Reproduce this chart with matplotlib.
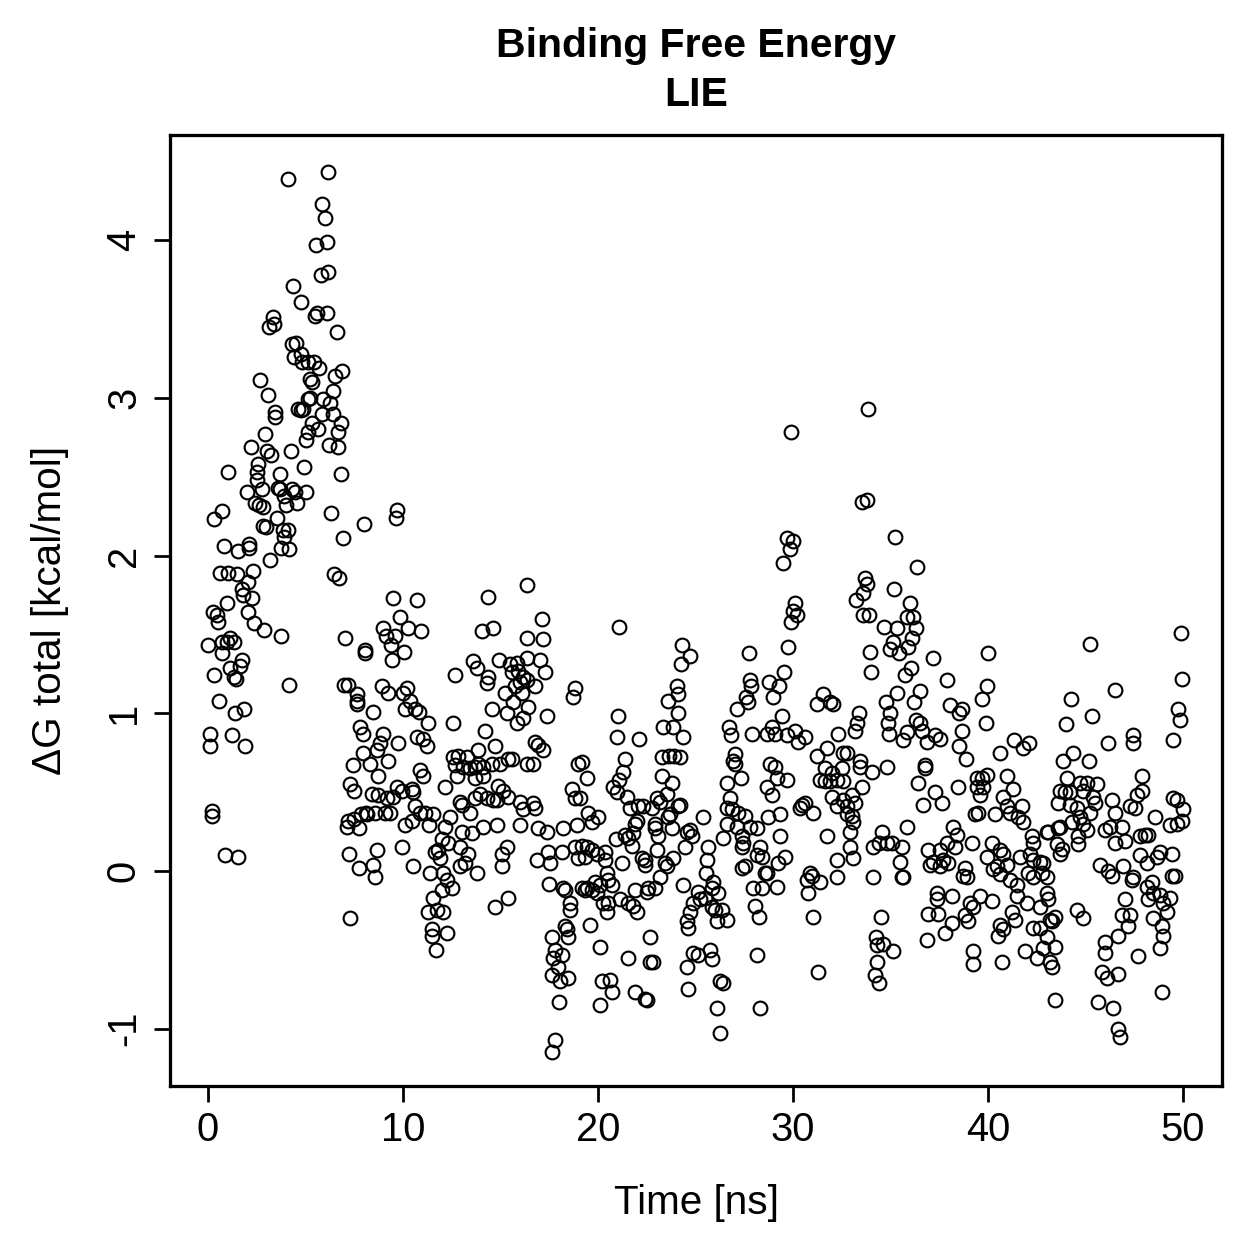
import matplotlib
matplotlib.use("Agg")
import matplotlib.pyplot as plt

plt.rcParams['font.family'] = ['Liberation Sans', 'DejaVu Sans']
plt.rcParams['axes.unicode_minus'] = False

# Time [ns] / dG total [kcal/mol], in time windows
t_rise = [
    6.15, 4.1, 5.85, 6.0, 5.55, 6.1, 5.8, 6.15, 4.36, 4.77,
    5.49, 5.59, 6.1, 3.33, 3.13, 3.38, 6.6, 4.3, 4.5, 4.4,
    4.77, 4.82, 5.13, 5.44, 5.69, 6.87, 6.5, 5.23, 5.33, 2.67,
    3.08, 6.41, 6.26, 5.9, 5.23, 5.13, 4.62, 4.77, 4.87, 3.44,
    3.44, 5.85, 6.41, 5.33, 5.64, 5.13, 5.03, 6.82, 6.67, 6.67,
    6.2, 2.92, 2.2, 3.03, 3.23, 4.26, 4.92, 3.69, 6.82, 1.03,
    2.56, 2.51, 2.51, 2.0, 2.77, 3.59, 3.69, 3.9, 4.31, 4.46,
    5.03, 4.56, 2.41, 2.62, 2.82, 4.0, 0.31, 0.72, 6.31, 3.54,
    8.0, 6.92, 2.82, 2.97, 3.85, 4.1, 3.9, 0.82, 1.54, 2.1,
    2.1, 3.74, 4.15, 3.18, 6.46, 6.72, 0.62, 1.03, 1.49, 2.31,
    2.05, 1.74, 1.79, 2.26, 0.97, 2.05,
    0.26, 0.46, 0.51, 2.36, 2.87, 3.74, 7.03, 8.05, 8.05, 0.0,
    0.72, 0.72, 1.13, 1.33, 0.97, 1.74, 1.64, 1.13, 1.33, 1.44,
    0.31, 4.15, 6.97, 7.18, 7.64, 7.64, 7.64, 0.56, 1.38, 1.85,
    0.1, 0.1, 1.23, 1.9, 7.8, 7.95, 7.95, 7.44, 7.28, 7.49,
    0.2, 0.2, 7.13, 7.18, 7.49, 7.85, 8.1, 7.74, 0.87, 1.54,
    7.23, 7.74, 7.28,
]
dg_rise = [
    4.43, 4.39, 4.23, 4.14, 3.97, 3.99, 3.78, 3.80, 3.71, 3.61,
    3.52, 3.54, 3.54, 3.51, 3.45, 3.47, 3.42, 3.34, 3.35, 3.26,
    3.28, 3.23, 3.23, 3.23, 3.19, 3.17, 3.14, 3.12, 3.10, 3.11,
    3.02, 3.04, 2.97, 2.99, 3.0, 2.99, 2.93, 2.92, 2.93, 2.91,
    2.88, 2.90, 2.90, 2.84, 2.80, 2.78, 2.73, 2.84, 2.78, 2.69,
    2.70, 2.77, 2.69, 2.66, 2.64, 2.66, 2.56, 2.52, 2.52, 2.53,
    2.58, 2.53, 2.48, 2.40, 2.42, 2.43, 2.42, 2.38, 2.42, 2.40,
    2.40, 2.33, 2.33, 2.32, 2.31, 2.32, 2.23, 2.28, 2.27, 2.24,
    2.20, 2.11, 2.19, 2.18, 2.16, 2.16, 2.12, 2.06, 2.03, 2.07,
    2.05, 2.05, 2.04, 1.97, 1.88, 1.86, 1.89, 1.89, 1.88, 1.90,
    1.83, 1.79, 1.75, 1.73, 1.70, 1.64,
    1.64, 1.62, 1.58, 1.57, 1.53, 1.49, 1.48, 1.40, 1.38, 1.43,
    1.45, 1.38, 1.48, 1.45, 1.45, 1.34, 1.30, 1.29, 1.23, 1.22,
    1.24, 1.18, 1.18, 1.18, 1.12, 1.08, 1.06, 1.08, 1.0, 1.03,
    0.87, 0.79, 0.86, 0.79, 0.91, 0.87, 0.75, 0.67, 0.55, 0.51,
    0.38, 0.35, 0.28, 0.32, 0.33, 0.36, 0.37, 0.27, 0.10, 0.09,
    0.11, 0.02, -0.30,
]

t_drop = [
    9.69, 9.64, 16.36, 9.49, 10.72, 14.36, 9.85, 8.97, 9.13, 9.59,
    10.26, 10.92, 9.38, 10.05, 9.44, 14.05, 14.62, 16.36, 12.67, 13.59,
    13.79, 14.92, 14.36, 14.31, 15.49, 15.85, 15.59, 15.9, 16.15, 16.0,
    15.74, 16.36, 15.23, 15.64, 14.56, 15.33, 15.85, 16.15, 16.41, 14.2,
    12.56, 8.46, 8.92, 9.23, 10.0, 10.2, 10.36, 10.1, 10.62, 10.82,
    11.28, 8.97, 8.82, 8.67, 9.74, 10.72, 11.03, 11.23, 8.31, 8.72,
    9.23, 10.87, 11.03, 8.41, 8.72, 9.18, 9.69, 9.95, 10.46, 10.51,
    9.49, 8.56, 8.15, 9.08, 9.33, 10.62, 10.87, 11.13, 11.54, 10.1,
    10.46, 11.33, 12.15, 12.56, 12.82, 13.28, 12.67, 13.08, 13.44, 13.69,
    13.85, 14.1, 14.56, 14.72, 14.97, 15.38, 15.59, 13.85, 12.77, 13.69,
    14.1, 14.87, 15.13, 15.38, 13.95, 13.69, 14.31, 14.62, 14.82, 12.92,
    13.03, 13.44, 16.0, 16.15, 16.36, 12.15, 12.41, 13.54, 13.03, 14.1,
    14.82, 16.0, 12.0, 12.31, 12.92, 13.33, 11.64, 11.79, 11.9, 11.38,
    12.05, 12.26, 12.51, 12.0, 11.54, 11.28, 11.74, 12.05, 11.49, 11.49,
    12.26, 11.69, 12.92, 13.18, 13.79, 15.08, 15.33, 15.08, 15.38, 14.72,
    10.51, 9.95, 8.67, 8.46, 8.56,
]
dg_drop = [
    2.29, 2.24, 1.81, 1.73, 1.72, 1.74, 1.61, 1.54, 1.49, 1.49,
    1.54, 1.52, 1.43, 1.39, 1.34, 1.52, 1.54, 1.48, 1.24, 1.33,
    1.29, 1.34, 1.23, 1.19, 1.31, 1.32, 1.26, 1.27, 1.23, 1.20,
    1.17, 1.21, 1.13, 1.07, 1.03, 1.0, 0.94, 0.97, 1.04, 0.89,
    0.94, 1.01, 1.17, 1.13, 1.13, 1.16, 1.08, 1.03, 1.03, 1.01,
    0.94, 0.87, 0.81, 0.77, 0.81, 0.85, 0.84, 0.79, 0.68, 0.60,
    0.70, 0.64, 0.60, 0.49, 0.48, 0.46, 0.53, 0.51, 0.52, 0.50,
    0.47, 0.37, 0.36, 0.37, 0.37, 0.41, 0.37, 0.37, 0.36, 0.29,
    0.32, 0.29, 0.53, 0.72, 0.73, 0.72, 0.67, 0.66, 0.65, 0.66,
    0.68, 0.66, 0.68, 0.79, 0.68, 0.71, 0.71, 0.77, 0.60, 0.59,
    0.60, 0.54, 0.51, 0.47, 0.49, 0.46, 0.46, 0.45, 0.45, 0.44,
    0.42, 0.37, 0.44, 0.39, 0.68, 0.28, 0.34, 0.24, 0.25, 0.28,
    0.29, 0.29, 0.20, 0.18, 0.15, 0.11, 0.12, 0.13, 0.08, -0.01,
    -0.01, -0.06, -0.11, -0.12, -0.17, -0.26, -0.25, -0.26, -0.37, -0.41,
    -0.39, -0.50, 0.03, 0.05, -0.01, 0.11, 0.15, 0.03, -0.17, -0.23,
    0.03, 0.15, 0.13, 0.04, -0.04,
]

t_mid = [
    17.13, 17.18, 21.08, 24.31, 24.26, 24.72, 16.36, 17.03, 17.28, 16.77,
    16.1, 17.38, 16.77, 16.92, 17.18, 16.67, 18.82, 18.72, 24.05, 23.59,
    24.1, 24.1, 23.33, 23.85, 24.36, 21.03, 20.97, 22.1, 21.38, 21.28,
    21.08, 20.77, 20.97, 21.49, 21.64, 22.05, 22.31, 22.77, 22.0, 21.9,
    21.38, 21.54, 20.92, 21.79, 21.74, 23.28, 23.64, 23.9, 23.28, 23.79,
    23.54, 23.03, 23.18, 24.1, 24.21, 23.69, 23.59, 22.92, 22.92, 23.08,
    23.79, 24.56, 24.46, 23.03, 23.85, 23.44, 23.54, 23.18, 24.36, 18.97,
    19.18, 19.44, 18.67, 18.82, 19.08, 19.49, 20.0, 19.69, 18.92, 18.21,
    16.67, 16.77, 16.92, 17.38, 18.82, 19.18, 19.44, 19.69, 18.97, 19.33,
    20.36, 20.36, 19.95, 18.15, 17.44, 16.87, 17.54, 21.23, 22.41, 22.41,
    22.26, 20.46, 20.51, 19.85, 19.44, 19.69, 19.95, 20.1, 20.72, 20.26,
    20.51, 20.46, 21.13, 21.54, 21.79, 22.0, 21.9, 22.56, 22.92, 22.51,
    17.49, 18.21, 18.31, 18.56, 18.56, 19.18, 19.33, 18.31, 18.41, 18.46,
    17.64, 17.79, 18.15, 17.69, 17.95, 17.64, 18.05, 18.46, 18.0, 19.59,
    20.1, 20.21, 20.62, 20.72, 20.1, 21.54, 21.9, 22.41, 22.51, 22.67,
    22.67, 22.82, 17.79, 17.64,
]
dg_mid = [
    1.60, 1.47, 1.55, 1.43, 1.31, 1.36, 1.35, 1.34, 1.26, 1.17,
    1.13, 0.98, 0.82, 0.80, 0.77, 0.68, 1.16, 1.10, 1.17, 1.08,
    1.12, 1.0, 0.91, 0.91, 0.85, 0.98, 0.85, 0.84, 0.71, 0.63,
    0.58, 0.53, 0.50, 0.47, 0.40, 0.41, 0.41, 0.40, 0.32, 0.30,
    0.23, 0.21, 0.20, 0.24, 0.16, 0.72, 0.73, 0.73, 0.60, 0.56,
    0.49, 0.46, 0.44, 0.41, 0.42, 0.36, 0.34, 0.30, 0.27, 0.22,
    0.27, 0.25, 0.15, 0.13, 0.08, 0.05, 0.03, -0.04, -0.09, 0.68,
    0.69, 0.59, 0.52, 0.46, 0.46, 0.37, 0.34, 0.31, 0.29, 0.27,
    0.43, 0.40, 0.27, 0.25, 0.15, 0.16, 0.15, 0.13, 0.08, 0.09,
    0.12, 0.07, 0.11, 0.12, 0.12, 0.07, 0.05, 0.05, 0.04, 0.07,
    0.08, -0.01, -0.06, -0.07, -0.11, -0.12, -0.14, -0.09, -0.09, -0.20,
    -0.20, -0.26, -0.18, -0.20, -0.22, -0.26, -0.12, -0.11, -0.11, -0.13,
    -0.08, -0.11, -0.12, -0.20, -0.25, -0.11, -0.12, -0.35, -0.37, -0.42,
    -0.42, -0.50, -0.53, -0.55, -0.61, -0.66, -0.70, -0.68, -0.83, -0.34,
    -0.48, -0.70, -0.69, -0.77, -0.85, -0.55, -0.77, -0.81, -0.82, -0.42,
    -0.58, -0.58, -1.07, -1.15,
]

t_peak = [
    29.49, 30.1, 30.0, 30.21, 29.9, 29.74, 27.74, 29.54, 29.28, 28.77,
    28.97, 27.79, 27.85, 27.59, 27.69, 27.13, 31.54, 31.23, 31.9, 32.05,
    24.21, 26.72, 26.82, 27.9, 28.67, 28.92, 29.08, 29.44, 29.69, 30.1,
    30.26, 30.62, 32.31, 31.74, 31.23, 32.56, 32.77, 32.51, 31.64, 32.0,
    31.38, 31.64, 31.9, 32.26, 32.56, 32.0, 32.26, 32.56, 32.77, 32.77,
    31.03, 30.62, 30.36, 30.46, 27.03, 26.92, 27.03, 27.33, 26.62, 26.77,
    26.62, 26.87, 27.18, 27.54, 26.62, 27.13, 27.79, 28.15, 26.41, 27.38,
    27.38, 27.44, 28.31, 28.15, 28.41, 28.72, 28.82, 29.08, 29.18, 29.69,
    28.67, 28.92, 29.33, 29.33, 29.59, 29.23, 28.56, 28.67, 27.38, 27.54,
    27.95, 28.41, 29.18, 28.05, 28.26, 28.15, 28.31, 25.38, 24.72, 24.82,
    25.64, 25.59, 25.54, 25.9, 25.13, 25.85, 26.15, 24.87, 25.23, 25.49,
    24.72, 24.56, 24.62, 26.0, 26.36, 26.1, 26.62, 25.85, 24.87, 25.13,
    25.74, 25.85, 24.56, 24.62, 26.26, 26.41, 26.1, 26.26, 31.28, 31.03,
    30.72, 30.87, 30.97, 30.77, 31.38, 32.26, 31.74, 32.26, 29.9, 29.69,
    30.0, 29.85,
]
dg_peak = [
    1.95, 1.70, 1.65, 1.62, 1.58, 1.42, 1.38, 1.26, 1.17, 1.20,
    1.10, 1.21, 1.17, 1.10, 1.07, 1.03, 1.12, 1.06, 1.07, 1.06,
    0.72, 0.91, 0.86, 0.87, 0.87, 0.91, 0.87, 0.98, 0.86, 0.89,
    0.82, 0.85, 0.87, 0.78, 0.73, 0.75, 0.75, 0.65, 0.65, 0.62,
    0.58, 0.57, 0.57, 0.58, 0.57, 0.47, 0.41, 0.45, 0.41, 0.36,
    0.37, 0.43, 0.40, 0.42, 0.74, 0.70, 0.68, 0.59, 0.56, 0.46,
    0.40, 0.39, 0.37, 0.35, 0.30, 0.28, 0.28, 0.27, 0.21, 0.22,
    0.15, 0.18, 0.15, 0.10, 0.09, 0.34, 0.68, 0.66, 0.59, 0.58,
    0.53, 0.48, 0.36, 0.22, 0.09, 0.05, -0.01, -0.01, 0.02, 0.03,
    -0.11, -0.11, -0.10, -0.22, -0.29, -0.53, -0.87, 0.34, 0.26, 0.22,
    0.15, 0.07, -0.01, -0.07, -0.13, -0.11, -0.14, -0.20, -0.18, -0.17,
    -0.26, -0.32, -0.36, -0.25, -0.25, -0.32, -0.31, -0.23, -0.52, -0.53,
    -0.50, -0.56, -0.61, -0.75, -0.70, -0.71, -0.87, -1.03, -0.64, -0.29,
    -0.06, -0.01, -0.03, -0.14, -0.07, -0.04, 0.22, 0.07, 2.78, 2.11,
    2.09, 2.04,
]

t_late = [
    33.85, 33.54, 33.79, 35.23, 36.36, 33.69, 33.79, 33.59, 33.23, 35.18,
    36.0, 35.85, 36.15, 36.31, 36.1, 35.9, 35.44, 35.33, 34.97, 35.13,
    34.67, 33.59, 33.9, 33.95, 34.0, 37.18, 40.0, 36.05, 35.74, 37.9,
    39.95, 39.69, 39.9, 35.33, 34.77, 34.97, 34.87, 34.92, 36.51, 36.21,
    38.05, 38.51, 38.67, 38.67, 38.51, 38.87, 36.31, 36.51, 36.62, 35.85,
    35.64, 36.87, 37.28, 37.54, 33.38, 33.28, 33.18, 33.44, 33.44, 34.05,
    34.82, 33.54, 36.77, 36.77, 36.41, 37.28, 38.46, 39.44, 39.69, 39.95,
    39.44, 39.74,
    33.03, 33.18, 33.03, 33.08, 32.92, 32.92, 33.08, 34.56, 34.41, 34.82,
    35.08, 34.1, 35.59, 35.49, 35.59, 35.64, 34.1, 35.85, 37.64, 36.67,
    36.92, 37.54, 37.9, 38.21, 38.41, 38.31, 37.69, 37.18, 37.03, 37.54,
    37.95, 38.82, 38.72, 38.92, 39.18, 39.59, 39.33, 39.49, 40.36, 40.21,
    39.95, 40.26, 40.46, 37.38, 37.38, 38.15, 36.92, 37.44, 37.79, 38.15,
    36.87, 38.82, 39.08, 39.23, 38.97, 39.59, 40.21, 40.51, 39.23, 39.23,
    34.51, 34.26, 34.31, 34.62, 35.13, 34.31, 34.21, 34.41,
]
dg_late = [
    2.93, 2.34, 2.35, 2.12, 1.93, 1.86, 1.82, 1.76, 1.72, 1.79,
    1.70, 1.61, 1.61, 1.54, 1.48, 1.42, 1.38, 1.54, 1.41, 1.45,
    1.55, 1.62, 1.62, 1.39, 1.26, 1.35, 1.38, 1.29, 1.24, 1.21,
    1.17, 1.09, 0.94, 1.13, 1.07, 1.0, 0.94, 0.87, 1.14, 1.07,
    1.05, 1.0, 1.03, 0.89, 0.79, 0.71, 0.96, 0.94, 0.89, 0.88,
    0.83, 0.82, 0.86, 0.84, 1.0, 0.94, 0.89, 0.70, 0.66, 0.63,
    0.66, 0.53, 0.67, 0.65, 0.56, 0.50, 0.53, 0.59, 0.59, 0.61,
    0.53, 0.53,
    0.48, 0.43, 0.35, 0.31, 0.25, 0.15, 0.08, 0.25, 0.18, 0.18,
    0.18, 0.15, 0.15, 0.06, -0.04, -0.04, -0.04, 0.28, 0.43, 0.42,
    0.13, 0.13, 0.18, 0.28, 0.23, 0.15, 0.07, 0.06, 0.04, 0.03,
    0.05, 0.02, -0.03, -0.04, 0.18, 0.48, 0.36, 0.37, 0.36, 0.18,
    0.09, 0.01, 0.03, -0.14, -0.18, -0.16, -0.27, -0.27, -0.39, -0.33,
    -0.44, -0.28, -0.20, -0.23, -0.32, -0.16, -0.19, -0.41, -0.51, -0.59,
    -0.29, -0.42, -0.47, -0.46, -0.51, -0.58, -0.66, -0.71,
]

t_end = [
    49.9, 45.23, 49.95, 46.51, 49.74, 49.85, 44.26, 45.33, 44.0, 47.44,
    47.44, 46.15, 49.49, 41.33, 41.79, 42.1, 40.62, 44.36, 43.85, 45.18,
    40.97, 41.28, 40.77, 40.97, 41.13, 41.74, 41.54, 41.79, 47.9, 47.9,
    47.64, 47.28, 47.54, 46.36, 46.51, 49.49, 49.69, 50.0, 49.33, 49.69,
    49.95, 48.56, 44.05, 44.72, 45.08, 45.59, 43.69, 43.95, 44.21, 44.87,
    43.59, 44.21, 44.56, 45.38, 45.49, 45.23, 44.72, 44.87, 44.31, 43.69,
    44.62, 44.62, 45.08, 43.08, 43.54, 43.69, 43.79, 46.0, 46.26, 46.87,
    46.51, 47.03, 47.79, 48.05, 48.21, 47.79, 48.15, 48.67, 48.82, 49.44,
    45.74, 46.15, 46.36, 46.92, 47.38, 47.44, 48.41, 48.15, 48.21, 48.46,
    48.82, 48.97, 49.33, 49.18, 49.44, 49.59, 48.46, 48.92, 48.97, 48.82,
    47.03, 46.87, 47.28, 47.18, 46.67, 47.69, 48.92, 46.0, 46.0, 45.85,
    46.1, 46.67, 45.64, 46.41, 46.67, 46.77, 40.62, 40.77, 40.97, 40.62,
    41.13, 41.49, 41.64, 42.26, 42.31, 42.15, 42.31, 42.67, 42.82, 42.05,
    42.31, 42.77, 43.03, 43.03, 43.08, 42.67, 42.0, 41.49, 41.23, 41.38,
    40.62, 40.77, 42.31, 42.67, 43.03, 43.44, 42.82, 41.9, 42.51, 43.18,
    43.28, 43.44, 43.28, 43.18, 44.56, 44.87, 40.72, 43.44, 43.03, 43.59,
]
dg_end = [
    1.51, 1.44, 1.22, 1.15, 1.03, 0.96, 1.09, 0.98, 0.93, 0.86,
    0.81, 0.81, 0.83, 0.83, 0.78, 0.81, 0.75, 0.75, 0.70, 0.70,
    0.60, 0.52, 0.47, 0.41, 0.37, 0.41, 0.34, 0.31, 0.60, 0.51,
    0.48, 0.41, 0.40, 0.45, 0.37, 0.46, 0.45, 0.39, 0.29, 0.30,
    0.32, 0.34, 0.59, 0.56, 0.56, 0.55, 0.51, 0.50, 0.50, 0.51,
    0.43, 0.42, 0.40, 0.47, 0.43, 0.37, 0.34, 0.30, 0.31, 0.28,
    0.22, 0.17, 0.26, 0.25, 0.17, 0.11, 0.14, 0.26, 0.28, 0.28,
    0.18, 0.19, 0.22, 0.23, 0.23, 0.10, 0.05, 0.09, 0.12, 0.11,
    0.04, 0.0, -0.03, 0.03, -0.06, -0.04, -0.07, -0.10, -0.18, -0.14,
    -0.15, -0.20, -0.17, -0.26, -0.03, -0.03, -0.30, -0.35, -0.41, -0.49,
    -0.18, -0.28, -0.28, -0.35, -0.41, -0.54, -0.77, -0.45, -0.52, -0.64,
    -0.68, -0.65, -0.83, -0.87, -1.0, -1.05, 0.13, 0.11, 0.04, -0.02,
    -0.06, -0.09, 0.09, 0.22, 0.18, 0.11, 0.07, 0.06, 0.05, -0.01,
    -0.04, -0.01, -0.04, -0.14, -0.18, -0.23, -0.20, -0.16, -0.26, -0.31,
    -0.34, -0.37, -0.36, -0.36, -0.42, -0.48, -0.49, -0.51, -0.55, -0.58,
    -0.61, -0.29, -0.32, -0.31, -0.25, -0.30, -0.58, -0.82, 0.25, 0.27,
]

x_ticks = [0, 10, 20, 30, 40, 50]
y_ticks = [-1, 0, 1, 2, 3, 4]

time_ns = t_rise + t_drop + t_mid + t_peak + t_late + t_end
dg_total = dg_rise + dg_drop + dg_mid + dg_peak + dg_late + dg_end
assert len(time_ns) == len(dg_total)

W = 1259
fig = plt.figure(figsize=(W / 180, W / 180), dpi=180)
ax = fig.add_axes([170 / W, 1 - 1086 / W, (1222 - 170) / W, (1086 - 135) / W])

ax.plot(time_ns, dg_total, 'o', ms=5.5, mfc='none', mec='black', mew=0.85)

ax.set_xlim(-1.95, 52.0)
ax.set_ylim(-1.363, 4.666)
ax.set_xticks(x_ticks)
ax.set_yticks(y_ticks)
for s in ax.spines.values():
    s.set_linewidth(1.3)
ax.tick_params(direction='out', length=6.4, width=1.1, labelsize=16, pad=3.6)
ax.tick_params(axis='y', pad=4.4)
for lab in ax.get_yticklabels():
    lab.set_rotation(90)
    lab.set_va('center')

cx = (170 + 1222) / 2 / W
fig.text(cx, 1 - 1203 / W, "Time [ns]", ha='center', va='center', fontsize=16.2)
fig.text(50 / W, 1 - 610 / W, "ΔG total [kcal/mol]", ha='center', va='center',
         rotation=90, fontsize=16.2)
fig.text(cx, 1 - 46 / W, "Binding Free Energy", ha='center', va='center',
         fontsize=16.4, fontweight='bold')
fig.text(cx, 1 - 95 / W, "LIE", ha='center', va='center',
         fontsize=16.4, fontweight='bold')

fig.savefig("out.png", dpi=180)
